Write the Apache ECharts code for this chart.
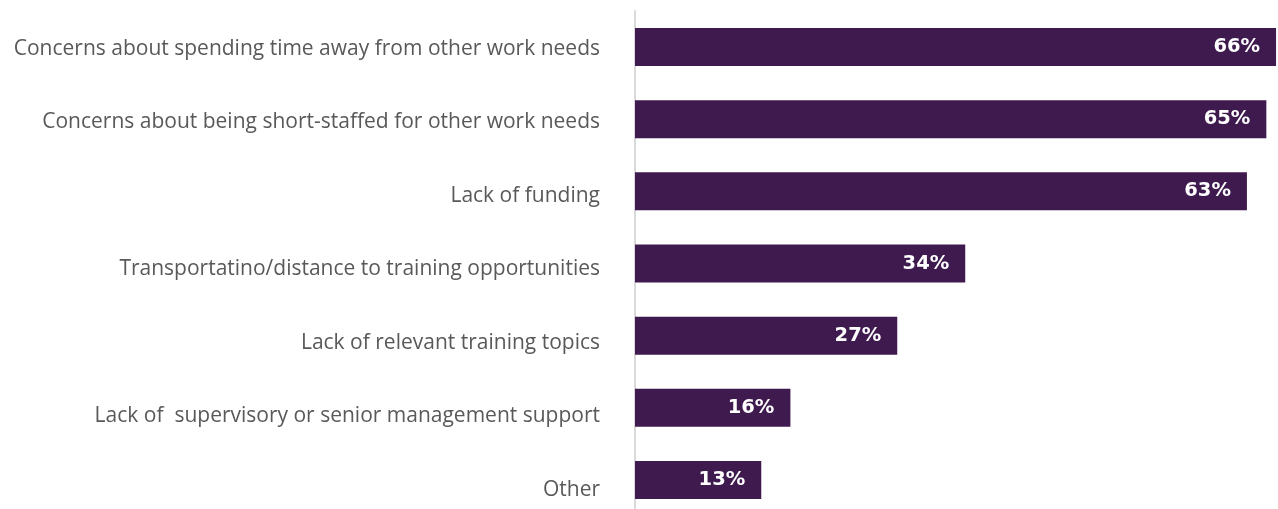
<!DOCTYPE html>
<html>
<head>
<meta charset="utf-8">
<script src="https://cdn.jsdelivr.net/npm/echarts@6/dist/echarts.min.js"></script>
<style>
  html, body { margin: 0; padding: 0; background: #ffffff; }
  #chart { width: 1278px; height: 509px; }
</style>
</head>
<body>
<div id="chart"></div>
<script>
// Barriers to attending training (% of respondents)
const categories = [
  'Concerns about spending time away from other work needs',
  'Concerns about being short-staffed for other work needs',
  'Lack of funding',
  'Transportatino/distance to training opportunities',
  'Lack of relevant training topics',
  'Lack of  supervisory or senior management support',
  'Other'
];
const values = [66, 65, 63, 34, 27, 16, 13];

// Category labels sit a little lower the further down the list they are
const labelRich = {};
categories.forEach((c, i) => {
  const d = 1.5 + i * 1.35;
  labelRich['l' + i] = {
    color: '#595959',
    fontFamily: 'Open Sans',
    fontSize: 21,
    padding: d >= 0 ? [2 * d, 0, 0, 0] : [0, 0, -2 * d, 0]
  };
});

const chart = echarts.init(document.getElementById('chart'));
chart.setOption({
  animation: false,
  backgroundColor: '#ffffff',
  grid: {
    left: 635, width: 643, top: 11, height: 505,
    containLabel: false,
    outerBoundsMode: 'none'
  },
  xAxis: {
    type: 'value',
    min: 0,
    max: 66.2,
    show: false
  },
  yAxis: {
    type: 'category',
    data: categories,
    inverse: true,
    axisLine: { show: true, lineStyle: { color: '#d9d9d9', width: 2 } },
    axisTick: { show: false },
    axisLabel: {
      margin: 35,
      color: '#595959',
      fontFamily: 'Open Sans',
      fontSize: 21,
      formatter: (v, i) => '{l' + i + '|' + v + '}',
      rich: labelRich
    },
    splitLine: { show: false }
  },
  series: [{
    type: 'bar',
    data: values,
    barWidth: 38,
    itemStyle: { color: '#3e1a4f' },
    label: {
      show: true,
      position: 'insideRight',
      distance: 16,
      color: '#ffffff',
      fontFamily: 'DejaVu Sans',
      fontWeight: 'bold',
      fontSize: 19.5,
      formatter: p => p.value + '%'
    }
  }]
});
</script>
</body>
</html>
